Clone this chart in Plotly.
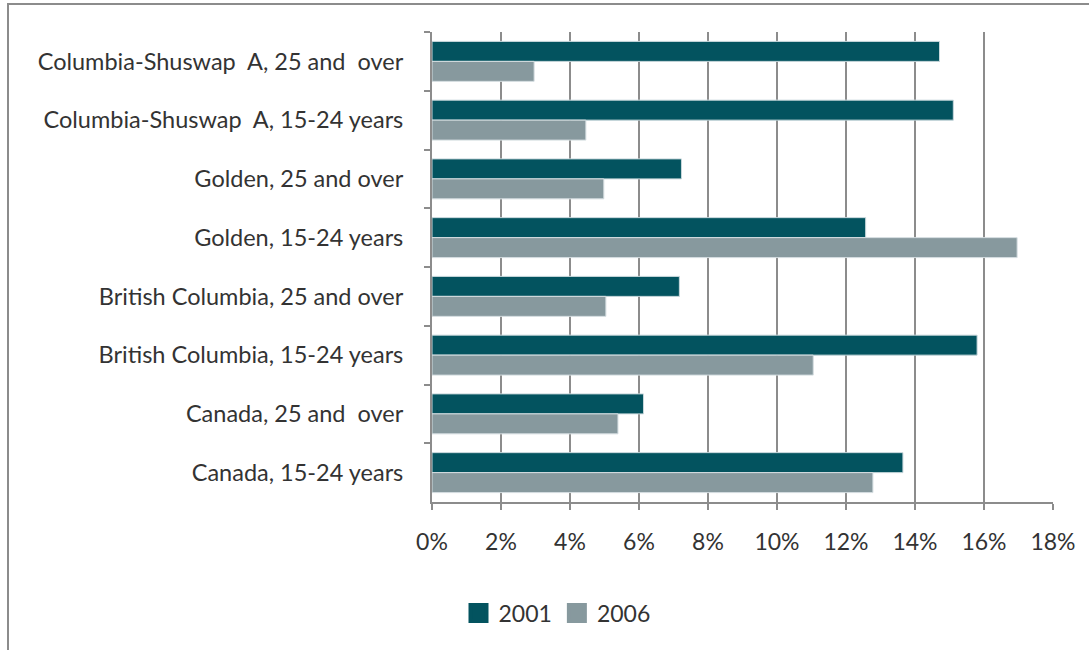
import plotly.graph_objects as go

categories = [
    "Columbia-Shuswap  A, 25 and  over",
    "Columbia-Shuswap  A, 15-24 years",
    "Golden, 25 and over",
    "Golden, 15-24 years",
    "British Columbia, 25 and over",
    "British Columbia, 15-24 years",
    "Canada, 25 and  over",
    "Canada, 15-24 years",
]
values_2001 = [0.1471, 0.1511, 0.0723, 0.1257, 0.0717, 0.1580, 0.0613, 0.1365]
values_2006 = [0.0296, 0.0446, 0.0498, 0.1696, 0.0504, 0.1105, 0.0539, 0.1278]
x_ticks = [0, 0.02, 0.04, 0.06, 0.08, 0.10, 0.12, 0.14, 0.16, 0.18]
series_names = ["2001", "2006"]
series_colors = ["#03535F", "#87999E"]

FONT = "Lato, 'Open Sans', sans-serif"
TXT = "#333333"
FS = 23

fig = go.Figure()
fig.add_trace(go.Bar(y=categories, x=values_2001, name=series_names[0], orientation="h",
                     showlegend=False,
                     marker=dict(color=series_colors[0], line=dict(color="#c9d8dc", width=1))))
fig.add_trace(go.Bar(y=categories, x=values_2006, name=series_names[1], orientation="h",
                     showlegend=False,
                     marker=dict(color=series_colors[1], line=dict(color="#d4dde0", width=1))))
# legend proxies with larger square symbols
for nm, col in zip(series_names, series_colors):
    fig.add_trace(go.Scatter(x=[None], y=[None], mode="markers", name=nm,
                             marker=dict(symbol="square", size=16, color=col,
                                         line=dict(color=col, width=4)),
                             showlegend=True))

L, R, T, B = 432, 1053, 32, 502
W, H = 1089, 650
pw, ph = R - L, B - T

fig.update_layout(
    width=W, height=H,
    margin=dict(l=L, r=W - R, t=T, b=H - B),
    paper_bgcolor="white", plot_bgcolor="white",
    barmode="group", bargap=0.32, bargroupgap=0,
    font=dict(family=FONT, size=FS, color=TXT),
    showlegend=True,
    legend=dict(orientation="h", x=(557 - L) / pw, xanchor="center",
                y=(B - 613) / ph, yanchor="middle",
                font=dict(family=FONT, size=FS, color=TXT),
                itemwidth=30, traceorder="normal", tracegroupgap=0),
    xaxis=dict(range=[0, 0.18], tickvals=x_ticks, tickformat=".0%",
               showgrid=True, gridcolor="#8c8c8c", gridwidth=2,
               showline=True, linecolor="#8c8c8c", linewidth=2,
               ticks="outside", ticklen=6, tickcolor="#8c8c8c", tickwidth=2,
               zeroline=False, ticklabelstandoff=12, fixedrange=True),
    yaxis=dict(autorange="reversed", type="category",
               showline=True, linecolor="#8c8c8c", linewidth=2,
               ticks="outside", tickson="boundaries", ticklen=6,
               tickcolor="#8c8c8c", tickwidth=2, showgrid=False,
               tickfont=dict(family=FONT, size=23.5, color=TXT),
               ticklabelstandoff=22, fixedrange=True),
    shapes=[dict(type="rect", xref="paper", yref="paper",
                 x0=(8 - L) / pw, x1=1.3, y0=-0.5, y1=(B - 4) / ph,
                 line=dict(color="#8c8c8c", width=2), layer="below")],
)

fig.write_html("out.html")
